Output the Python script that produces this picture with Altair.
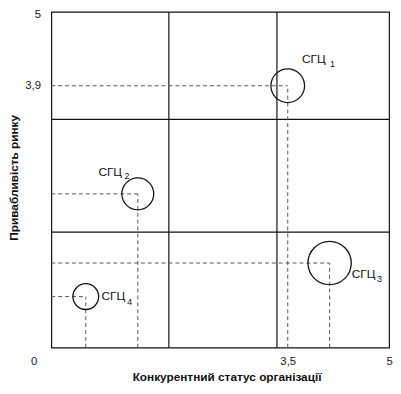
import altair as alt
import pandas as pd

# --- data ---
names = ["СГЦ", "СГЦ", "СГЦ", "СГЦ"]
subs = ["1", "2", "3", "4"]
status = [3.5, 1.28, 4.12, 0.51]      # Конкурентний статус (x)
attract = [3.9, 2.29, 1.26, 0.76]     # Привабливість ринку (y)
volume = [2.9, 2.6, 4.8, 1.7]         # relative bubble size
grid_x = [1.74, 3.34]
grid_y = [1.72, 3.4]
x_ticks = [0, 3.5, 5]
y_ticks = [3.9, 5]

df = pd.DataFrame({"name": names, "sub": subs, "x": status, "y": attract, "v": volume})
gx = pd.DataFrame({"gx": grid_x})
gy = pd.DataFrame({"gy": grid_y})

FONT = "Liberation Sans"
xscale = alt.Scale(domain=[0, 5], nice=False, zero=False)
yscale = alt.Scale(domain=[0, 5], nice=False, zero=False)

xaxis = alt.Axis(
    values=x_ticks, grid=False, ticks=False, tickSize=0, domain=False,
    labelExpr="replace(format(datum.value, '.1~f'), '.', ',')",
    labelFlush=False, labelPadding=8, labelBaseline="top",
    labelOffset=alt.expr("datum.value == 0 ? -18 : 0"),
    labelFontSize=11.5, labelColor="#222", labelFont=FONT,
    title="Конкурентний статус організації", titleFont=FONT, titleFontSize=12,
    titleFontWeight="bold", titleColor="#111", titleX=178, titleY=33.5,
    titleBaseline="alphabetic", titleAnchor="middle", titleAlign="center",
)
yaxis = alt.Axis(
    values=y_ticks, grid=False, ticks=False, tickSize=0, domain=False,
    labelExpr="replace(format(datum.value, '.1~f'), '.', ',')",
    labelPadding=11, labelBaseline="middle",
    labelOffset=alt.expr("datum.value == 5 ? 3 : 0"),
    labelFontSize=11.5, labelColor="#222", labelFont=FONT,
    title="Привабливість ринку", titleFont=FONT, titleFontSize=12,
    titleFontWeight="bold", titleColor="#111", titleX=-38, titleY=168,
    titleBaseline="middle", titleAngle=270, titleAlign="center",
)


def X(f):
    return alt.X(f, scale=xscale, axis=xaxis)


def Y(f):
    return alt.Y(f, scale=yscale, axis=yaxis)


base = alt.Chart(df)

vgrid = alt.Chart(gx).mark_rule(color="#111", strokeWidth=1.2).encode(x=X("gx:Q"))
hgrid = alt.Chart(gy).mark_rule(color="#111", strokeWidth=1.2).encode(y=Y("gy:Q"))

dash = base.transform_calculate(origin="0")
hdash = dash.mark_rule(color="#555", strokeWidth=1, strokeDash=[4, 3]).encode(
    x=X("origin:Q"), x2="x:Q", y=Y("y:Q")
)
vdash = dash.mark_rule(color="#555", strokeWidth=1, strokeDash=[4, 3]).encode(
    x=X("x:Q"), y=Y("origin:Q"), y2="y:Q"
)

bubbles = base.mark_point(shape="circle", filled=False, color="#111",
                          strokeWidth=1.3, opacity=1).encode(
    x=X("x:Q"), y=Y("y:Q"),
    size=alt.Size("v:Q", scale=alt.Scale(domain=[0, 4.8], range=[0, 1936]), legend=None),
)

main_off = [(14.5, -27), (-40, -22), (22.5, 11), (16, -1)]
sub_off = [(43, -22), (-13.5, -18), (48, 16), (42, 6)]

labels = []
for s, (mdx, mdy), (sdx, sdy) in zip(subs, main_off, sub_off):
    sel = base.transform_filter(alt.datum.sub == s)
    labels.append(sel.mark_text(align="left", baseline="middle", dx=mdx, dy=mdy,
                                fontSize=12, font=FONT, color="#111").encode(
        x=X("x:Q"), y=Y("y:Q"), text="name:N"))
    labels.append(sel.mark_text(align="left", baseline="middle", dx=sdx, dy=sdy,
                                fontSize=9, font=FONT, color="#111").encode(
        x=X("x:Q"), y=Y("y:Q"), text="sub:N"))

chart = alt.layer(vgrid, hgrid, hdash, vdash, bubbles, *labels).properties(
    width=343, height=341,
    autosize=alt.AutoSizeParams(type="none"),
    padding={"left": 44, "top": 1, "right": 4, "bottom": 36},
    background="white",
).configure_view(stroke="#111", strokeWidth=1.2)

chart.save("out.html", embed_options={"renderer": "svg", "actions": False})
